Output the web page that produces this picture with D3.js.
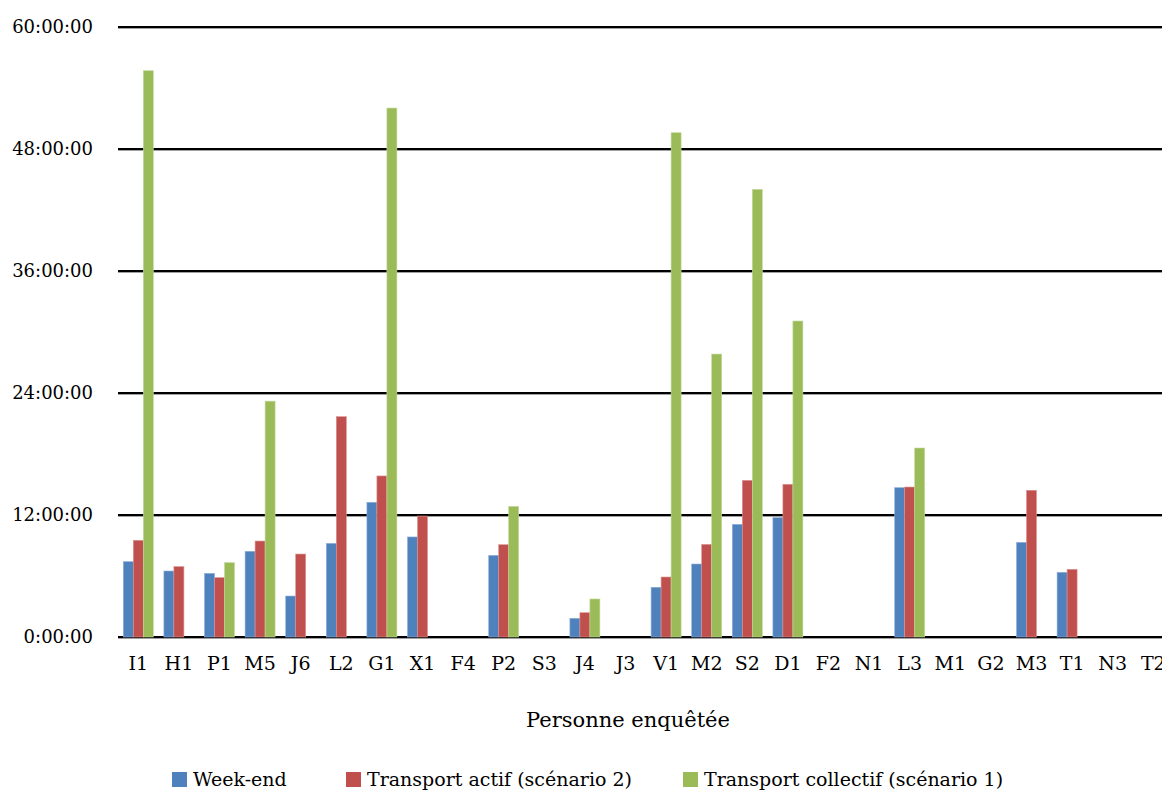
<!DOCTYPE html>
<html><head><meta charset="utf-8">
<script src="https://cdn.jsdelivr.net/npm/d3@7"></script>
<style>html,body{margin:0;padding:0;background:#fff;overflow:hidden}</style>
</head><body>
<svg id="c" width="1162" height="790"></svg>
<script>
const categories = ["I1","H1","P1","M5","J6","L2","G1","X1","F4","P2","S3","J4","J3","V1","M2","S2","D1","F2","N1","L3","M1","G2","M3","T1","N3","T2"];
const seriesNames = ["Week-end","Transport actif (scénario 2)","Transport collectif (scénario 1)"];
// hours
const weekEnd   = [7.41,6.49,6.26,8.43,4.03,9.21,13.25,9.84,0,8.03,0,1.84,0,4.89,7.18,11.08,11.74,0,0,14.69,0,0,9.31,6.36,0,0];
const actif     = [9.51,6.92,5.84,9.44,8.16,21.67,15.84,11.9,0,9.08,0,2.39,0,5.9,9.11,15.41,15.02,0,0,14.75,0,0,14.43,6.66,0,0];
const collectif = [55.7,0,7.31,23.2,0,0,52.03,0,0,12.85,0,3.74,0,49.6,27.83,44.03,31.08,0,0,18.59,0,0,0,0,0,0];
const yTicks = [0,12,24,36,48,60];
const colors = ["#4F81BD","#C0504D","#9BBB59"];
const strokes = ["#8FB0DA","#DA9391","#C3D99B"];

const svg = d3.select("#c");
const left = 118, bandW = 40.6;
const x = d3.scaleBand().domain(categories).range([left, left + bandW*categories.length]).padding(0);
const x1 = d3.scaleBand().domain([0,1,2]).range([x.bandwidth()/2-15, x.bandwidth()/2+15]).padding(0);
const y = d3.scaleLinear().domain([0,60]).range([637,27]);

// gridlines
const g = svg.append("g");
yTicks.forEach(t=>{
  g.append("line").attr("x1",left).attr("x2",1162).attr("y1",y(t)+1.5).attr("y2",y(t)+1.5).attr("stroke","#a0a0a0").attr("stroke-width",1);
  g.append("line").attr("x1",left).attr("x2",1162).attr("y1",y(t)).attr("y2",y(t)).attr("stroke","#000").attr("stroke-width",2);
});

// y tick labels
const yAxis = d3.axisLeft(y).tickValues(yTicks).tickSize(0).tickPadding(0).tickFormat(d=>d+":00:00");
const ya = svg.append("g").attr("transform","translate(93,0)").call(yAxis);
ya.select(".domain").remove();
ya.selectAll("text").attr("font-family","DejaVu Serif").attr("font-size","18px").attr("fill","#000");

// bars
const series = [weekEnd, actif, collectif];
series.forEach((vals,si)=>{
  svg.append("g").selectAll("rect").data(categories.map((c,i)=>({c,v:vals[i]})).filter(d=>d.v>0))
    .join("rect")
    .attr("x",d=>x(d.c)+x1(si))
    .attr("width",x1.bandwidth())
    .attr("y",d=>y(d.v))
    .attr("height",d=>y(0)-y(d.v))
    .attr("fill",colors[si])
    .attr("stroke",strokes[si]).attr("stroke-width",0.6);
});

// x labels
const xAxis = d3.axisBottom(x).tickSize(0).tickPadding(0);
const xa = svg.append("g").attr("transform","translate(0,656)").call(xAxis);
xa.select(".domain").remove();
xa.selectAll("text").attr("dy","0.71em").attr("font-family","DejaVu Serif").attr("font-size","19px").attr("fill","#000");

// axis title
svg.append("text").attr("x",628).attr("y",727).attr("text-anchor","middle")
  .attr("font-family","DejaVu Serif").attr("font-size","21px").text("Personne enquêtée");

// legend
const legX = [172,346,683];
seriesNames.forEach((n,i)=>{
  svg.append("rect").attr("x",legX[i]).attr("y",772).attr("width",15).attr("height",15).attr("fill",colors[i]);
  svg.append("text").attr("x",legX[i]+21).attr("y",786).attr("font-family","DejaVu Serif").attr("font-size","19px").text(n);
});
</script>
</body></html>
